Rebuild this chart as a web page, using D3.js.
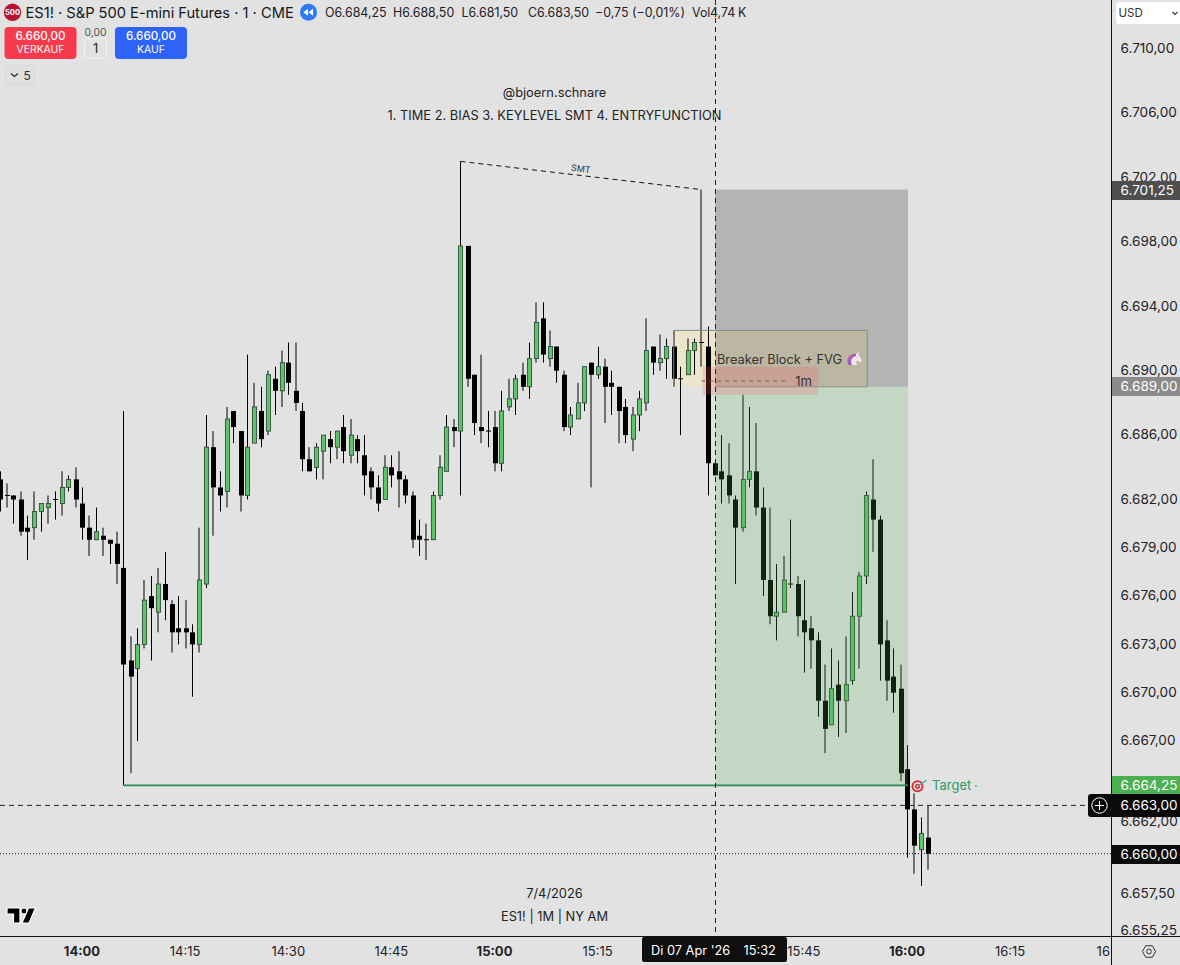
<!DOCTYPE html>
<html><head><meta charset="utf-8">
<script src="https://cdn.jsdelivr.net/npm/d3@7/dist/d3.min.js"></script>
<style>
html,body{margin:0;padding:0;background:#e2e2e2;overflow:hidden}
svg{display:block;font-family:Inter,"Liberation Sans",sans-serif}
</style></head><body><svg id="c" width="1180" height="965"></svg>
<script>
const firstMinute = -12; // minutes relative to 14:00
const opens = [6683.25,6682.25,6682.25,6682,6680.25,6680.25,6681.25,6681.5,6682,6681.75,6682.75,6683.25,
6681.75,6680.25,6679.5,6679.75,6679.5,6679.25,6677.75,6672,6671.5,6673,6676,6675,6676.75,6675.5,6674,6674,6673.75,6673,6676.75,6685.25,6682.75,6682.5,6687.5,6686.25,6682.25,6685.5,6687.5,6686.25,6689.5,6688.75,6690.5,6688.75,6687.5,6684.5,6684,6685,6685.75,6685.25,6686.5,6684.75,6685.75,6684.75,6683.75,6682.75,6682,6684,6683.75,6683.25,6682.25,6679.75,6679.5,6679.5,6682.25,6683.75,6686.5,6686.25,6697.75,6689.75,6686.5,6686.25,6686.5,6684.25,6687.75,6688.25,6689.75,6689,6690.75,6693.25,6690.75,6691.5,6689.75,6686.5,6687,6688,6690.5,6689.75,6690.25,6689.25,6689,6687.75,6685.75,6687.25,6688,6691.5,6690.5,6690.75,6691.5,6689.5,6689.75,6691.25,6691.75,6691.5,6684.25,6683.75,6683.5,6682,6680.25,6683.25,6683.75,6681.5,6677,6674.75,6675,6676.75,6676.75,6674.5,6674,6673.25,6669.5,6668,6670.5,6669.5,6670.75,6674.75,6677.25,6682,6680.75,6673.25,6671,6670.25,6665.25,6662.75,6660.25,6661];
const highs = [6683.75,6683,6682.25,6682.5,6681,6682.5,6681.75,6682.25,6682.5,6683.75,6683.5,6684,
6682.75,6681,6681.5,6680.25,6679.5,6680,6687.5,6673.5,6674,6677,6677.25,6677.75,6678.75,6675.75,6676,6675.75,6674.25,6680.25,6687.25,6686.25,6683.75,6687.75,6687.5,6686.25,6691,6689.25,6689,6690,6690.25,6691.25,6691.75,6691.75,6688,6685.25,6685.5,6686,6686.25,6686.25,6687.25,6687,6686,6686,6684,6683.5,6684.75,6684.75,6685,6683.5,6682.5,6680.75,6680.5,6682.5,6684.75,6687.25,6687,6703,6697.75,6689.75,6691,6687.5,6687.5,6688.75,6689.5,6689.75,6690.5,6691.75,6694.25,6694.25,6692.5,6691.5,6690,6687.75,6689.25,6690.25,6690.5,6691.5,6690.75,6690,6689,6688.25,6687.75,6688.75,6693.25,6691.5,6692.25,6692,6692.5,6690.25,6692,6692,6701.25,6692.75,6684.25,6686,6685.5,6682.25,6688.5,6687.75,6686.75,6682.75,6681.5,6678,6678.5,6680.75,6677.25,6677,6674.75,6673.75,6671.75,6672.75,6672,6673.5,6676.25,6677.5,6682.5,6684.5,6681,6674.5,6672.75,6671.75,6666.75,6663.75,6662.25,6663];
const lows = [6681.25,6681.5,6680.5,6679.75,6678.25,6679.5,6680,6680.5,6680.75,6681,6682.5,6681.5,
6679.5,6678.5,6679.5,6678.5,6678,6676.75,6664.25,6665,6667,6672.75,6672,6673.75,6674.5,6672.5,6673,6672.75,6669.75,6672.5,6676.5,6679.75,6681.25,6681.5,6685.5,6681.25,6682,6685.5,6685.25,6686,6687.25,6687.75,6688.5,6687.5,6683.75,6683.75,6683.25,6683.25,6684.25,6684.5,6684.25,6684.25,6684.25,6682.25,6682,6681.25,6682,6682.75,6681.5,6681.75,6679,6678.5,6678.25,6679.5,6682,6683.75,6685.25,6682.25,6689,6686,6685.5,6685.25,6683.75,6683.75,6687.5,6687.25,6688.75,6688.25,6690.5,6690.5,6690.25,6689.25,6686.25,6686,6687,6687.5,6682.75,6689.5,6686.75,6687.25,6685.5,6685.5,6685,6686.25,6687.5,6689.75,6690,6689.5,6689,6686,6689.75,6689.75,6690.25,6682.25,6683.5,6681.75,6681.75,6676.75,6680,6682.75,6681,6676,6674.25,6673.25,6675,6676.5,6673.5,6671.25,6671.5,6668.5,6666.25,6668,6667.25,6667.5,6670.5,6671.5,6676.75,6678.75,6670.75,6669.5,6668.75,6664.5,6659.75,6658.75,6658,6659];
const closes = [6682,6682.25,6682,6680,6680,6681.25,6681.75,6681.75,6682,6682.75,6683.25,6682,
6680.25,6679.5,6680,6679.5,6679.25,6678,6671.75,6671,6673,6675.75,6675.25,6676.75,6675.75,6673.75,6673.75,6673.75,6673,6677,6685.25,6682.75,6682.25,6687,6686.5,6682.25,6685.25,6687.75,6685.75,6689.75,6688.75,6690.5,6689.25,6688,6684.5,6683.75,6685.25,6686,6685.25,6686.25,6685,6686,6685,6683.5,6682.75,6681.75,6684,6683.5,6683.25,6682.25,6679.5,6679.5,6679.5,6682.25,6684,6686.5,6686.25,6697.75,6689.5,6686.75,6686.25,6686.25,6684.25,6687.5,6688.25,6689.5,6689,6690.75,6693,6691,6691.5,6690,6686.5,6687.25,6688,6690.25,6689.75,6690.25,6689,6689,6687.5,6686,6687.25,6688.25,6691.25,6690.5,6690.75,6691.5,6689.5,6689.5,6691.25,6691.75,6691.75,6684.25,6683.5,6683.25,6682.25,6680.25,6683.25,6683.75,6681.5,6677,6674.75,6675,6677,6676.75,6674.75,6673.75,6673.25,6669.5,6667.75,6670.25,6669.5,6670.5,6674.75,6677.25,6682.25,6680.75,6673,6670.75,6670,6665,6662.75,6660.5,6661.25,6660];

const yTickValues = [6710,6706,6702,6698,6694,6690,6686,6682,6679,6676,6673,6670,6667,6662,6657.5,6655.25];
const timeTickMinutes = [0,15,30,45,60,75,105,120,135,150];
const timeTickLabels = ["14:00","14:15","14:30","14:45","15:00","15:15","15:45","16:00","16:15","16:30"];
const boldTimeLabels = ["14:00","15:00","16:00"];
const smtMinutes = [55,90], smtPrices = [6703,6701.25];
const targetPrice = 6664.25, entryPrice = 6689, stopPrice = 6701.25, crossPrice = 6663, lastPrice = 6660;
const zoneMinutes = [92,120];
const breakerMinutes = [86,114], breakerPrices = [6692.5,6689];
const fvgMinutes = [90,107], fvgPrices = [6690.25,6688.5];
const crossMinute = 92;
const ohlcLegend = [["O6.684,25",325],["H6.688,50",393],["L6.681,50",461.5],["C6.683,50",528],["−0,75",595],["(−0,01%)",632],["Vol",692],["4,74",710],["K",738]];

const W=1180,H=965,plotR=1111,plotB=936;
const svg=d3.select("#c");
const x=d3.scaleLinear().domain([0,120]).range([82.5,907.5]);
const y=d3.scaleLinear().domain([6660,6710]).range([853.7,48.7]);
const de=d3.formatLocale({decimal:",",thousands:".",grouping:[3],currency:["",""]});
const fmt=de.format(",.2f");

svg.append("rect").attr("width",W).attr("height",H).attr("fill","#e2e2e2");
const defs=svg.append("defs");
defs.append("clipPath").attr("id","plot").append("rect").attr("width",plotR).attr("height",plotB);
defs.append("clipPath").attr("id","tAxis").append("rect").attr("y",plotB).attr("width",plotR-0.5).attr("height",H-plotB);

const plot=svg.append("g").attr("clip-path","url(#plot)");
// breaker box (below candles)
plot.append("rect").attr("x",x(breakerMinutes[0])).attr("width",x(breakerMinutes[1])-x(breakerMinutes[0])+1)
 .attr("y",y(breakerPrices[0])).attr("height",y(breakerPrices[1])-y(breakerPrices[0]))
 .attr("fill","rgb(255,235,150)").attr("fill-opacity",.3);

const candles=opens.map((o,i)=>({m:firstMinute+i,o,h:highs[i],l:lows[i],c:closes[i]}));
function crisp(m){ return (m<=40||m>=110)? m%2===0 : m%2!==0; }
function cx(m){ const X=x(m); return crisp(m)?Math.floor(X)+.5:Math.round(X); }
const cg=plot.append("g");
const bars=cg.selectAll("g").data(candles).join("g");
bars.append("line").attr("x1",d=>cx(d.m)).attr("x2",d=>cx(d.m)).attr("y1",d=>y(d.h)).attr("y2",d=>y(d.l))
 .attr("stroke","#000").attr("stroke-width",1);
const bodyLeft=d=>Math.round(cx(d.m)-2.5);
bars.filter(d=>d.c<d.o).append("rect").attr("x",bodyLeft).attr("width",5)
 .attr("y",d=>y(d.o)).attr("height",d=>y(d.c)-y(d.o)).attr("fill","#000");
bars.filter(d=>d.c>d.o).append("rect").attr("x",d=>bodyLeft(d)+.4).attr("width",4.2)
 .attr("y",d=>y(d.c)).attr("height",d=>y(d.o)-y(d.c)).attr("fill","#5ec46c").attr("stroke","#2b4a31").attr("stroke-width",.85);
bars.filter(d=>d.c===d.o).append("line").attr("x1",d=>bodyLeft(d)).attr("x2",d=>bodyLeft(d)+5)
 .attr("y1",d=>y(d.c)).attr("y2",d=>y(d.c)).attr("stroke","#000").attr("stroke-width",1);

// risk / reward zones
const zx0=x(zoneMinutes[0]), zw=x(zoneMinutes[1])-zx0+.5;
plot.append("rect").attr("x",zx0).attr("width",zw).attr("y",y(stopPrice)).attr("height",y(entryPrice)-y(stopPrice)).attr("fill","#000").attr("fill-opacity",.2);
plot.append("rect").attr("x",zx0).attr("width",zw).attr("y",y(entryPrice)).attr("height",y(targetPrice)-y(entryPrice)).attr("fill","rgb(76,175,80)").attr("fill-opacity",.2);
// breaker outline
plot.append("path").attr("d",()=>{const a=x(breakerMinutes[0]),b=x(breakerMinutes[1])+1,t=y(breakerPrices[0]),u=y(breakerPrices[1]);return `M${a},${u}V${t}H${b}V${u}`})
 .attr("fill","none").attr("stroke","#8c8c86").attr("stroke-width",1);
plot.append("line").attr("x1",zx0).attr("x2",x(breakerMinutes[1])+1).attr("y1",y(entryPrice)).attr("y2",y(entryPrice)).attr("stroke","#8f8f8f").attr("stroke-width",1);
// target line
plot.append("line").attr("x1",x(6)).attr("x2",x(120)+.5).attr("y1",y(targetPrice)).attr("y2",y(targetPrice)).attr("stroke","#2e8b57").attr("stroke-width",1.7);
// fvg box
plot.append("rect").attr("x",x(fvgMinutes[0])+1.5).attr("width",x(fvgMinutes[1])-x(fvgMinutes[0])-1.5)
 .attr("y",y(fvgPrices[0])).attr("height",y(fvgPrices[1])-y(fvgPrices[0])).attr("fill","rgb(240,90,100)").attr("fill-opacity",.22);
plot.append("line").attr("x1",x(fvgMinutes[0])).attr("x2",788).attr("y1",381).attr("y2",381).attr("stroke","#666").attr("stroke-width",1).attr("stroke-dasharray","4 4");
plot.append("text").attr("x",803.5).attr("y",381).attr("text-anchor","middle").attr("dominant-baseline","central").attr("font-size",13).attr("fill","#333").text("1m");
plot.append("text").attr("x",717).attr("y",359).attr("dominant-baseline","central").attr("font-size",12.8).attr("fill","#333").text("Breaker Block + FVG");
// unicorn
const uni=plot.append("g").attr("transform","translate(847,352)");
uni.append("path").attr("d","M3,13 C2,8 4,3 9,2 L12,0 L11.5,3 C13.5,5 15,8 14.5,10 L12,10 L10,8 C9,9 9,11 10,13 Z").attr("fill","#efe6ef");
uni.append("path").attr("d","M9,2 C4,1 0,5 0.5,10 L1.5,13 L5,13 C3,9 4.5,5 9,4 Z").attr("fill","#9a5fc0");
uni.append("path").attr("d","M6,3 C3,4 2,7 2.5,9").attr("stroke","#e85a9b").attr("stroke-width",1.2).attr("fill","none");

// SMT
plot.append("line").attr("x1",cx(smtMinutes[0])).attr("x2",cx(smtMinutes[1])).attr("y1",y(smtPrices[0])).attr("y2",y(smtPrices[1]))
 .attr("stroke","#111").attr("stroke-width",1).attr("stroke-dasharray","5 4");
plot.append("text").attr("transform","translate(581,168.5) rotate(6.6)").attr("text-anchor","middle").attr("dominant-baseline","central").attr("font-size",9).attr("fill","#333").text("SMT");

// target marker
const tg=plot.append("g").attr("transform",`translate(917.5,${y(targetPrice)+1})`);
tg.append("circle").attr("r",6).attr("fill","#d8323a");
tg.append("circle").attr("r",4).attr("fill","#f4e4e4");
tg.append("circle").attr("r",2.6).attr("fill","#d8323a");
tg.append("circle").attr("r",1).attr("fill","#f4e4e4");
tg.append("line").attr("x1",0).attr("y1",0).attr("x2",9).attr("y2",-6).attr("stroke","#3aa7c0").attr("stroke-width",1.4);
plot.append("text").attr("x",932).attr("y",y(targetPrice)).attr("dominant-baseline","central").attr("font-size",13).attr("fill","#2f9a66").text("Target");
plot.append("text").attr("x",974).attr("y",y(targetPrice)).attr("dominant-baseline","central").attr("font-size",13).attr("fill","#2f9a66").text("·");

// centered notes
const notes=[["@bjoern.schnare",92],["1. TIME 2. BIAS 3. KEYLEVEL SMT 4. ENTRYFUNCTION",115],["7/4/2026",893.5],["ES1! | 1M | NY AM",916]];
plot.selectAll("text.note").data(notes).join("text").attr("class","note").attr("x",554.5).attr("y",d=>d[1])
 .attr("text-anchor","middle").attr("dominant-baseline","central").attr("font-size",12.85).attr("fill","#222").text(d=>d[0]);

// last price dotted & crosshair
plot.append("line").attr("x1",0).attr("x2",plotR).attr("y1",y(lastPrice)).attr("y2",y(lastPrice)).attr("stroke","#111").attr("stroke-width",1).attr("stroke-dasharray","1 2");
plot.append("line").attr("x1",x(crossMinute)+.5).attr("x2",x(crossMinute)+.5).attr("y1",0).attr("y2",plotB).attr("stroke","#222").attr("stroke-width",1).attr("stroke-dasharray","5 4");
plot.append("line").attr("x1",0).attr("x2",1090).attr("y1",y(crossPrice)).attr("y2",y(crossPrice)).attr("stroke","#222").attr("stroke-width",1).attr("stroke-dasharray","5 4");

// axis lines
svg.append("line").attr("x1",plotR+.5).attr("x2",plotR+.5).attr("y1",0).attr("y2",H).attr("stroke","#111").attr("stroke-width",1);
svg.append("line").attr("x1",0).attr("x2",W).attr("y1",plotB+.5).attr("y2",plotB+.5).attr("stroke","#111").attr("stroke-width",1);

// price axis
const yAxis=d3.axisRight(y).tickValues(yTickValues).tickFormat(fmt).tickSize(0).tickPadding(0);
const yg=svg.append("g").attr("transform","translate(1120.5,-0.9)").call(yAxis);
yg.select(".domain").remove();
yg.selectAll("text").attr("font-size",13.55).attr("fill","#1f2126").attr("font-family","Inter").attr("dy",".35em");

// time axis
const tLabel=d=>timeTickLabels[timeTickMinutes.indexOf(d)];
const xAxis=d3.axisBottom(x).tickValues(timeTickMinutes).tickFormat(tLabel).tickSize(0).tickPadding(0);
const xg=svg.append("g").attr("clip-path","url(#tAxis)").append("g").attr("transform",`translate(-1,951)`).call(xAxis);
xg.select(".domain").remove();
xg.selectAll("text").attr("dy",".35em").attr("font-size",13).attr("font-family","Inter").attr("fill","#1f2126")
 .attr("font-weight",d=>boldTimeLabels.includes(tLabel(d))?700:400);

// crosshair time tag
svg.append("rect").attr("x",642).attr("y",937).attr("width",145).attr("height",25).attr("rx",2).attr("fill","#0f0f0f");
const tag=svg.append("text").attr("x",651).attr("y",950.5).attr("dominant-baseline","central").attr("font-size",12.8).style("fill","#fff");
tag.text("Di 07 Apr '26");
svg.append("text").attr("x",743.5).attr("y",950.5).attr("dominant-baseline","central").attr("font-size",12.8).style("fill","#fff").text("15:32");

// price tags
const tags=[[stopPrice,"#4f4f4f",181,19,"#fff"],[entryPrice,"#8b8b8b",377,19,"#fff"],[targetPrice,"#4caf50",776,19,"#fff"],[lastPrice,"#0a0a0a",845,19,"#fff"]];
tags.forEach(t=>{
 svg.append("rect").attr("x",plotR+1).attr("y",t[2]).attr("width",W-plotR-1).attr("height",t[3]).attr("fill",t[1]);
 svg.append("text").attr("x",1120.5).attr("y",t[2]+t[3]/2-.5).attr("dominant-baseline","central").attr("font-size",13.55).style("fill",t[4]).text(fmt(t[0]));
});
// crosshair price tag
svg.append("path").attr("d","M1180,794H1091a3,3 0 0 0 -3,3V814a3,3 0 0 0 3,3H1180Z").attr("fill","#0a0a0a");
svg.append("circle").attr("cx",1099.5).attr("cy",805.5).attr("r",7.7).attr("fill","none").attr("stroke","#fff").attr("stroke-width",1);
svg.append("path").attr("d","M1095,805.5H1104M1099.5,801V810").attr("stroke","#fff").attr("stroke-width",1);
svg.append("text").attr("x",1120.5).attr("y",805).attr("dominant-baseline","central").attr("font-size",13.55).style("fill","#fff").text(fmt(crossPrice));

// gear
const gear=svg.append("g").attr("transform","translate(1149,951.5)");
gear.append("path").attr("d",d3.range(6).map(i=>{const a=Math.PI/3*i;return (i?"L":"M")+(6.6*Math.cos(a)).toFixed(2)+","+(6.6*Math.sin(a)).toFixed(2)}).join("")+"Z").attr("fill","none").attr("stroke","#333").attr("stroke-width",1);
gear.append("circle").attr("r",2.4).attr("fill","none").attr("stroke","#333").attr("stroke-width",1);

// USD box
svg.append("rect").attr("x",1116).attr("y",2).attr("width",70).attr("height",22).attr("rx",3).attr("fill","#fff");
svg.append("text").attr("x",1118.5).attr("y",13).attr("dominant-baseline","central").attr("font-size",11.5).attr("fill","#333").text("USD");
svg.append("path").attr("d","M1172.5,12L1175,14.5L1177.5,12").attr("fill","none").attr("stroke","#333").attr("stroke-width",1.1);

// TV logo
const lg=svg.append("g").attr("transform","translate(7,908)");
lg.append("path").attr("d","M0,0H13V15H6.5V6H0Z").attr("fill","#000").attr("stroke","#fff").attr("stroke-width",1.2);
lg.append("circle").attr("cx",17).attr("cy",3).attr("r",3).attr("fill","#000").attr("stroke","#fff").attr("stroke-width",1);
lg.append("path").attr("d","M21.5,0H28.5L22,15H15Z").attr("fill","#000").attr("stroke","#fff").attr("stroke-width",1.2);

// header
svg.append("circle").attr("cx",12.5).attr("cy",12.3).attr("r",8.7).attr("fill","#b9122e");
svg.append("text").attr("x",12.5).attr("y",12.5).attr("text-anchor","middle").attr("dominant-baseline","central").attr("font-size",7.6).attr("font-weight",700).style("fill","#fff").text("500");
svg.append("text").attr("x",25.5).attr("y",12.5).attr("dominant-baseline","central").attr("font-size",14.65).attr("fill","#131722").text("ES1! · S&P 500 E-mini Futures · 1 · CME");
svg.append("circle").attr("cx",308.5).attr("cy",12.3).attr("r",8.5).attr("fill","#2f7bf0");
svg.append("path").attr("d","M308,8.8V15.8L303.5,12.3ZM313,8.8V15.8L308.5,12.3Z").attr("fill","#fff");
svg.selectAll("text.leg").data(ohlcLegend).join("text").attr("class","leg").attr("x",d=>d[1]).attr("y",12.5).attr("dominant-baseline","central").attr("font-size",12.4).attr("fill","#1f2126").text(d=>d[0]);

// order buttons
svg.append("rect").attr("x",4.5).attr("y",27).attr("width",72).attr("height",32).attr("rx",4).attr("fill","#f7394c");
svg.append("rect").attr("x",115).attr("y",27).attr("width",72).attr("height",32).attr("rx",4).attr("fill","#2d62fb");
const btn=[[40.5,36,"6.660,00",11.6,500],[40.5,49.5,"VERKAUF",10.4,400],[151,36,"6.660,00",11.6,500],[151,49.5,"KAUF",10.4,400]];
btn.forEach(b=>svg.append("text").attr("x",b[0]).attr("y",b[1]).attr("text-anchor","middle").attr("dominant-baseline","central").attr("font-size",b[3]).attr("font-weight",b[4]).style("fill","#fff").text(b[2]));
svg.append("text").attr("x",95.5).attr("y",32).attr("text-anchor","middle").attr("dominant-baseline","central").attr("font-size",10.4).attr("fill","#555").text("0,00");
svg.append("rect").attr("x",84.5).attr("y",38.5).attr("width",22).attr("height",20).attr("rx",3).attr("fill","#e2e2e2").attr("stroke","#f2f2f2");
svg.append("text").attr("x",95.5).attr("y",48.8).attr("text-anchor","middle").attr("dominant-baseline","central").attr("font-size",12.8).attr("fill","#222").text("1");
svg.append("rect").attr("x",5.5).attr("y",65.5).attr("width",29).attr("height",19).attr("rx",3).attr("fill","#e0e0e0").attr("stroke","#d9d9d9");
svg.append("path").attr("d","M11,73.5L14.5,76.5L18,73.5").attr("fill","none").attr("stroke","#222").attr("stroke-width",1.2);
svg.append("text").attr("x",23.5).attr("y",75.5).attr("dominant-baseline","central").attr("font-size",12).attr("fill","#333").text("5");
</script></body></html>
